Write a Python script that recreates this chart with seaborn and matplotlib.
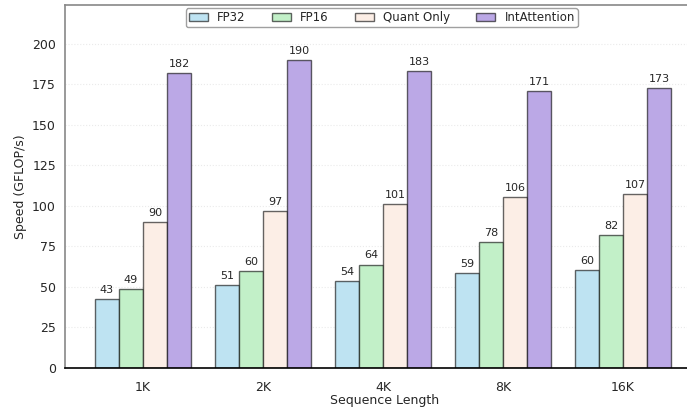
import matplotlib
matplotlib.use("Agg")
import matplotlib.pyplot as plt
import seaborn as sns
import pandas as pd

seq_lengths = ["1K", "2K", "4K", "8K", "16K"]
methods = ["FP32", "FP16", "Quant Only", "IntAttention"]
fp32 = [42.6, 51, 53.7, 58.6, 60.3]
fp16 = [48.9, 59.6, 63.8, 77.9, 82]
quant_only = [90, 96.6, 101, 105.6, 107.2]
int_attention = [182, 190, 183, 170.6, 172.8]

colors = ["#BEE3F2", "#C2F0C8", "#FCEEE6", "#BBA8E6"]

rows = []
for name, vals in zip(methods, [fp32, fp16, quant_only, int_attention]):
    for s, v in zip(seq_lengths, vals):
        rows.append({"Sequence Length": s, "Method": name, "Speed": v})
df = pd.DataFrame(rows)

sns.set_style("white")
fig = plt.figure(figsize=(6.87, 4.08), dpi=100)
ax = fig.add_axes([0.0946, 0.098, 0.93, 0.89])

sns.barplot(
    data=df,
    x="Sequence Length",
    y="Speed",
    hue="Method",
    order=seq_lengths,
    hue_order=methods,
    palette=colors,
    width=0.8,
    edgecolor=(0, 0, 0, 0.6),
    linewidth=1,
    saturation=1,
    ax=ax,
)

for container in ax.containers:
    ax.bar_label(container, labels=[f"{v:.0f}" for v in container.datavalues],
                 padding=3, fontsize=8)

ax.set_ylim(0, 224)
ax.set_xlim(-0.65, 4.675)
ax.set_yticks(range(0, 201, 25))
ax.yaxis.grid(True, linestyle=":", color="#dddddd", alpha=0.6, linewidth=0.8)
ax.set_axisbelow(True)

ax.set_xlabel("Sequence Length", fontsize=9, labelpad=0)
ax.set_ylabel("Speed (GFLOP/s)", fontsize=9)
ax.tick_params(axis="both", labelsize=9, length=3, width=0.6, color="#999999")
ax.tick_params(axis="x", pad=6)

ax.spines["left"].set_color("#888888")
ax.spines["top"].set_color("#888888")
ax.spines["bottom"].set_color("black")
ax.spines["right"].set_visible(False)
for sp in ["left", "top", "bottom"]:
    ax.spines[sp].set_linewidth(1.2)

ax.legend(loc="upper center", bbox_to_anchor=(0.496, 1.0), ncol=4, fontsize=8.5,
          frameon=True, edgecolor="#888888", fancybox=True, borderpad=0.25,
          handlelength=1.6, handletextpad=0.8, columnspacing=2.2, title=None,
          borderaxespad=0.3)

plt.savefig("out.png", dpi=100)
